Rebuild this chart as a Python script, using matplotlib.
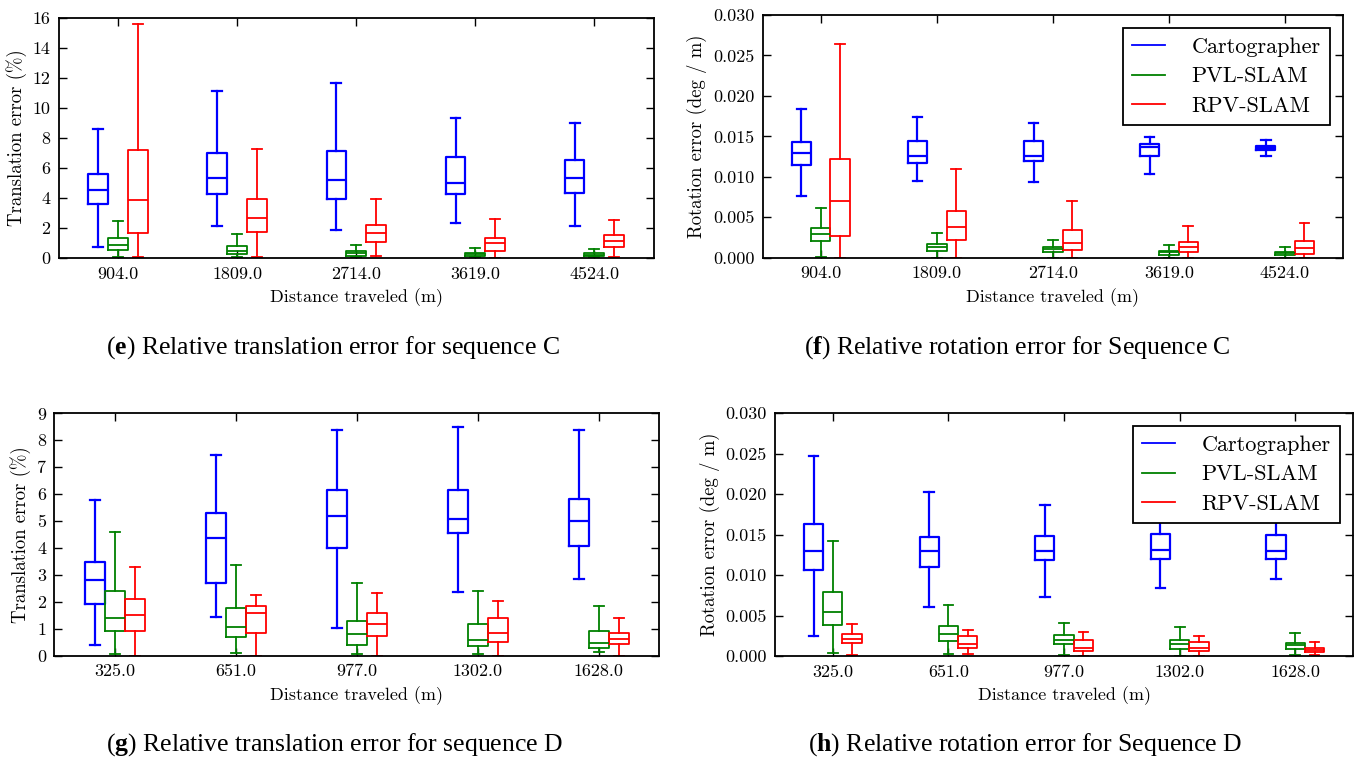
import matplotlib
matplotlib.use('Agg')
import matplotlib.pyplot as plt

plt.rcParams['font.family'] = ['cmr10', 'DejaVu Serif']
plt.rcParams['mathtext.fontset'] = 'custom'
plt.rcParams['mathtext.rm'] = 'Liberation Serif'
plt.rcParams['mathtext.bf'] = 'Liberation Serif:bold'
plt.rcParams['axes.unicode_minus'] = False

methods = ['Cartographer', 'PVL-SLAM', 'RPV-SLAM']
colors = ['#0000ff', '#008000', '#ff0000']

dist_c = ['904.0', '1809.0', '2714.0', '3619.0', '4524.0']
dist_d = ['325.0', '651.0', '977.0', '1302.0', '1628.0']

# per group: [whisker low, q1, median, q3, whisker high]
trans_c_carto = [[0.73, 3.61, 4.54, 5.61, 8.60], [2.10, 4.25, 5.30, 7.02, 11.12],
                 [1.88, 3.94, 5.22, 7.13, 11.66], [2.35, 4.27, 5.02, 6.75, 9.32],
                 [2.13, 4.34, 5.35, 6.53, 8.99]]
trans_c_pvl = [[0.07, 0.51, 0.89, 1.31, 2.44], [0.07, 0.29, 0.44, 0.80, 1.57],
               [0.04, 0.15, 0.33, 0.49, 0.89], [0.04, 0.13, 0.24, 0.33, 0.66],
               [0.04, 0.12, 0.22, 0.32, 0.62]]
trans_c_rpv = [[0.04, 1.64, 3.83, 7.22, 15.58], [0.04, 1.75, 2.66, 3.96, 7.28],
               [0.11, 1.04, 1.64, 2.21, 3.96], [0.02, 0.46, 1.02, 1.34, 2.57],
               [0.09, 0.75, 1.15, 1.53, 2.55]]

rot_c_carto = [[0.00762, 0.01146, 0.01294, 0.01426, 0.01834], [0.00952, 0.01174, 0.01261, 0.01446, 0.01735],
               [0.00940, 0.01195, 0.01257, 0.01438, 0.01661], [0.01030, 0.01257, 0.01364, 0.01409, 0.01496],
               [0.01261, 0.01327, 0.01360, 0.01385, 0.01455]]
rot_c_pvl = [[0.0001, 0.00206, 0.00288, 0.00371, 0.00614], [0.0, 0.00087, 0.00132, 0.00173, 0.00305],
             [0.0, 0.00066, 0.00111, 0.00132, 0.00219], [0.0, 0.00037, 0.00066, 0.00082, 0.00152],
             [0.0, 0.00029, 0.00058, 0.00074, 0.00132]]
rot_c_rpv = [[0.0, 0.00268, 0.00696, 0.01216, 0.02641], [0.0, 0.00223, 0.00379, 0.00577, 0.01096],
             [0.0, 0.00095, 0.00181, 0.00342, 0.00705], [0.0, 0.00066, 0.00132, 0.00198, 0.00387],
             [0.0, 0.00045, 0.00124, 0.00202, 0.00429]]

trans_d_carto = [[0.41, 1.91, 2.80, 3.48, 5.79], [1.45, 2.71, 4.38, 5.29, 7.44],
                 [1.04, 4.01, 5.19, 6.14, 8.38], [2.36, 4.57, 5.08, 6.15, 8.50],
                 [2.84, 4.07, 5.00, 5.81, 8.40]]
trans_d_pvl = [[0.06, 0.90, 1.40, 2.39, 4.61], [0.11, 0.69, 1.05, 1.76, 3.37],
               [0.06, 0.39, 0.80, 1.29, 2.69], [0.06, 0.36, 0.57, 1.17, 2.39],
               [0.14, 0.28, 0.47, 0.93, 1.84]]
trans_d_rpv = [[0.0, 0.90, 1.51, 2.12, 3.31], [0.0, 0.83, 1.57, 1.85, 2.24],
               [0.0, 0.73, 1.17, 1.59, 2.34], [0.0, 0.52, 0.84, 1.39, 2.02],
               [0.0, 0.43, 0.63, 0.83, 1.40]]

rot_d_carto = [[0.00248, 0.01061, 0.01296, 0.01626, 0.02472], [0.00611, 0.01102, 0.01296, 0.01473, 0.02026],
               [0.00730, 0.01189, 0.01300, 0.01486, 0.01861], [0.00838, 0.01201, 0.01312, 0.01502, 0.01850],
               [0.00945, 0.01197, 0.01292, 0.01494, 0.01750]]
rot_d_pvl = [[0.00037, 0.00380, 0.00545, 0.00792, 0.01420], [0.00025, 0.00182, 0.00272, 0.00376, 0.00636],
             [0.00017, 0.00149, 0.00194, 0.00256, 0.00409], [0.0, 0.00091, 0.00153, 0.00198, 0.00355],
             [0.00012, 0.00083, 0.00140, 0.00165, 0.00285]]
rot_d_rpv = [[0.00012, 0.00157, 0.00210, 0.00272, 0.00392], [0.00025, 0.00099, 0.00144, 0.00248, 0.00318],
             [0.0, 0.00062, 0.00103, 0.00198, 0.00293], [0.0, 0.00062, 0.00103, 0.00169, 0.00248],
             [0.00012, 0.00045, 0.00074, 0.00099, 0.00169]]

fig = plt.figure(figsize=(13.55, 7.6), dpi=100)

W = 1.0 / 6


def panel(rect, labels, series, ylabel, ylim, yticks, yfmt, caption, cap_x, cap_y, legend=False):
    ax = fig.add_axes(rect)
    for k, data in enumerate(series):
        stats = []
        for s in data:
            stats.append(dict(whislo=s[0], q1=s[1], med=s[2], q3=s[3], whishi=s[4], fliers=[]))
        pos = [i + 1 + (k - 1.5) * W + W / 2 for i in range(len(data))]
        lw = 1.6 if k == 0 else 1.3
        c = colors[k]
        ax.bxp(stats, positions=pos, widths=W, showfliers=False, manage_ticks=False,
               boxprops=dict(color=c, lw=lw), whiskerprops=dict(color=c, lw=lw, linestyle='-'),
               capprops=dict(color=c, lw=lw), medianprops=dict(color=c, lw=lw))
        ax.plot([], [], color=c, lw=1.3, label=methods[k])
    ax.set_xlim(0.5, 5.5)
    ax.set_ylim(*ylim)
    ax.set_xticks(range(1, len(labels) + 1))
    ax.set_xticklabels(labels)
    ax.set_yticks(yticks)
    ax.set_yticklabels([yfmt.format(v) for v in yticks])
    ax.tick_params(direction='in', top=True, right=True, length=5.5, width=1.0,
                   labelsize=13, pad=6)
    for sp in ax.spines.values():
        sp.set_linewidth(1.3)
    ax.set_xlabel('Distance traveled (m)', fontsize=13, labelpad=5)
    ax.set_ylabel(ylabel, fontsize=13.5)
    if legend:
        leg = ax.legend(loc='upper right', fontsize=16, fancybox=False, framealpha=1,
                        edgecolor='black', handlelength=1.5, handletextpad=1.2,
                        labelspacing=0.45, borderaxespad=0.6)
        leg.get_frame().set_linewidth(1.3)
    fig.text(cap_x, cap_y, caption, ha='center', va='center', fontsize=18.5,
             family='Liberation Serif')
    return ax


panel([0.0433, 0.6605, 0.4393, 0.3162], dist_c, [trans_c_carto, trans_c_pvl, trans_c_rpv],
      'Translation error (%)', (0, 16), list(range(0, 17, 2)), '{:d}',
      r'($\mathbf{e}$) Relative translation error for sequence C', 333 / 1355, 1 - 348 / 760)
panel([0.5629, 0.6609, 0.4283, 0.3193], dist_c, [rot_c_carto, rot_c_pvl, rot_c_rpv],
      'Rotation error (deg / m)', (0, 0.030), [0.005 * i for i in range(7)], '{:.3f}',
      r'($\mathbf{f}$) Relative rotation error for Sequence C', 1017 / 1355, 1 - 348 / 760, legend=True)
panel([0.0401, 0.1372, 0.4465, 0.3189], dist_d, [trans_d_carto, trans_d_pvl, trans_d_rpv],
      'Translation error (%)', (0, 9), list(range(0, 10)), '{:d}',
      r'($\mathbf{g}$) Relative translation error for sequence D', 335 / 1355, 1 - 745 / 760)
panel([0.572, 0.1368, 0.4266, 0.3197], dist_d, [rot_d_carto, rot_d_pvl, rot_d_rpv],
      'Rotation error (deg / m)', (0, 0.030), [0.005 * i for i in range(7)], '{:.3f}',
      r'($\mathbf{h}$) Relative rotation error for Sequence D', 1025 / 1355, 1 - 745 / 760, legend=True)

fig.savefig('out.png', dpi=100, facecolor='white')
